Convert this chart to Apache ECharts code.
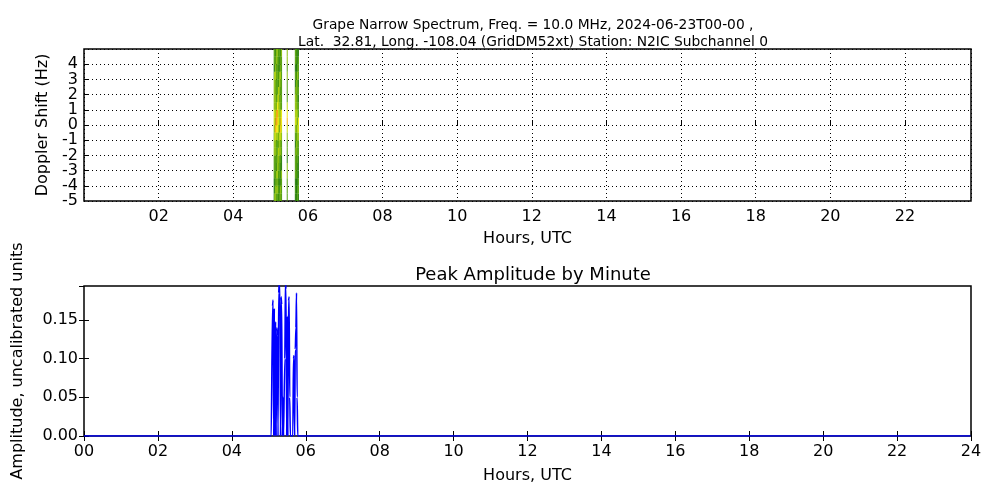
<!DOCTYPE html>
<html><head><meta charset="utf-8">
<script src="https://cdn.jsdelivr.net/npm/echarts@6/dist/echarts.min.js"></script>
<style>html,body{margin:0;padding:0;background:#fff}#c{width:1000px;height:500px}</style>
</head><body><div id="c"></div>
<script>
// Peak amplitude: nonzero minutes (minute of day, value); all other minutes are 0
const peakMinutes = [305,306,307,309,311,313,314,316,317,318,320,321,323,324,326,327,328,330,332,333,334,335,339,340,341,343,344,345,346,347];
const peakValues  = [0,0.168,0.176,0.165,0.148,0.14,0.13,0.185,0.2,0.195,0.18,0.17,0.05,0,0.1,0.2,0.19,0.155,0.175,0.18,0.05,0,0,0.1,0.104,0.112,0.14,0.185,0.05,0];
// Spectrogram stripes: columns (minutes) and their intensities
const specMinutes = [305,306,307,308,309,310,311,312,313,314,315,316,317,326,339,340,341,342,343,344];
const specColAmp  = [0.7,0.75,0.8,0.85,0.75,0.9,0.85,0.8,0.75,0.7,0.8,0.72,0.68,0.75,0.6,0.65,0.7,0.62,0.6,0.55];
// Doppler bins (Hz, lower edge) and relative intensity profile
const dopplerBins = [-5,-4.5,-4,-3.5,-3,-2.5,-2,-1.5,-1,-0.5,0,0.5,1,1.5,2,2.5,3,3.5,4,4.5];
const dopplerProf = [0.45,0.5,0.42,0.55,0.48,0.5,0.6,0.55,0.7,0.85,1.0,0.9,0.7,0.6,0.55,0.5,0.58,0.45,0.5,0.48];
const cellTexture = [0.6,1.0,0.75,1.15,0.85,0.7,1.1,0.9];
const palette = ['#0a6400','#1f7a00','#4a9a00','#86bc00','#c4da00','#eee800','#f5b000','#f08000'];

const lineData = [];
for (let m = 0; m < 1440; m++) {
  const i = peakMinutes.indexOf(m);
  lineData.push([m / 60, i >= 0 ? peakValues[i] : 0]);
}
const cells = [];
specMinutes.forEach((m, ci) => dopplerBins.forEach((d, ri) => {
  cells.push([m / 60, d, specColAmp[ci] * dopplerProf[ri] * cellTexture[(ci * 3 + ri * 5) % cellTexture.length]]);
}));
const pad = v => String(Math.round(v)).padStart(2, '0');
const fontBase = {fontFamily: 'DejaVu Sans', color: '#000'};
const tick = {inside: true, length: 5, lineStyle: {color: '#000'}};
const noTick = {show: false};
const chart = echarts.init(document.getElementById('c'));
chart.setOption({
  animation: false,
  title: [
    {text: 'Grape Narrow Spectrum, Freq. = 10.0 MHz, 2024-06-23T00-00 ,\nLat.  32.81, Long. -108.04 (GridDM52xt) Station: N2IC Subchannel 0',
     left: 528, top: 12, textAlign: 'center', textStyle: {...fontBase, fontSize: 13.8, fontWeight: 'normal', lineHeight: 17}},
    {text: 'Peak Amplitude by Minute', left: 528, top: 261, textAlign: 'center', textStyle: {...fontBase, fontSize: 18, fontWeight: 'normal'}}
  ],
  grid: [
    {left: 84, right: 29, top: 49, bottom: 299, show: true, borderColor: '#000', borderWidth: 1.5},
    {left: 84, right: 29, top: 286, bottom: 64, show: true, borderColor: '#000', borderWidth: 1.5}
  ],
  xAxis: [
    {gridIndex: 0, type: 'value', min: 0, max: 23.77, interval: 2, name: 'Hours, UTC', nameLocation: 'middle', nameGap: 30,
     nameTextStyle: {...fontBase, fontSize: 16},
     axisLine: {show: false}, axisTick: tick,
     axisLabel: {...fontBase, fontSize: 16, margin: 8, showMinLabel: false, showMaxLabel: false, formatter: v => (v === 0 || v > 23) ? '' : pad(v)},
     splitLine: {show: true, lineStyle: {color: '#000', type: [1, 3]}}},
    {gridIndex: 1, type: 'value', min: 0, max: 24, interval: 2, name: 'Hours, UTC', nameLocation: 'middle', nameGap: 32,
     nameTextStyle: {...fontBase, fontSize: 16},
     axisLine: {show: false}, axisTick: tick,
     axisLabel: {...fontBase, fontSize: 16, margin: 8, formatter: v => pad(v)}, splitLine: {show: false}},
    {gridIndex: 1, type: 'value', min: 0, max: 24, interval: 2, position: 'top',
     axisLine: {show: false}, axisTick: tick, axisLabel: {show: false}, splitLine: {show: false}}
  ],
  yAxis: [
    {gridIndex: 0, type: 'value', min: -5, max: 5, interval: 1, name: 'Doppler Shift (Hz)', nameLocation: 'middle', nameGap: 24,
     nameTextStyle: {...fontBase, fontSize: 16},
     axisLine: {show: false}, axisTick: tick,
     axisLabel: {...fontBase, fontSize: 16, lineHeight: 12, margin: 6, showMinLabel: false, showMaxLabel: false, formatter: v => (v === 5 || v === -5) ? '' : String(v)},
     splitLine: {show: true, lineStyle: {color: '#000', type: [1, 3]}}},
    {gridIndex: 0, type: 'value', min: -5, max: 5, interval: 1, position: 'left',
     axisLine: {show: false}, axisTick: noTick, splitLine: {show: false},
     axisLabel: {...fontBase, fontSize: 16, lineHeight: 12, margin: 6, showMinLabel: true, showMaxLabel: false, formatter: v => v === -5 ? '-5' : ''}},
    {gridIndex: 1, type: 'value', min: 0, max: 0.194, interval: 0.05, name: 'Amplitude, uncalibrated units', nameLocation: 'middle', nameGap: 58,
     nameTextStyle: {...fontBase, fontSize: 16},
     axisLine: {show: false}, axisTick: tick,
     axisLabel: {...fontBase, fontSize: 16, margin: 6, showMaxLabel: false, formatter: v => v > 0.16 ? '' : v.toFixed(2)}, splitLine: {show: false}},
    {gridIndex: 1, type: 'value', min: 0, max: 0.194, interval: 0.05, position: 'right',
     axisLine: {show: false}, axisTick: tick, axisLabel: {show: false}, splitLine: {show: false}}
  ],
  series: [
    {type: 'custom', xAxisIndex: 0, yAxisIndex: 0, data: cells, clip: true,
     renderItem: (params, api) => {
       const x = api.value(0), y = api.value(1), v = api.value(2);
       const p0 = api.coord([x, y + 0.5]), p1 = api.coord([x + 1 / 60, y]);
       const idx = Math.max(0, Math.min(palette.length - 1, Math.floor(v * palette.length)));
       return {type: 'rect', shape: {x: p0[0], y: p0[1], width: p1[0] - p0[0] + 0.3, height: p1[1] - p0[1]},
               style: {fill: palette[idx]}};
     }},
    {type: 'line', xAxisIndex: 1, yAxisIndex: 2, data: lineData, showSymbol: false, smooth: 0.2, smoothMonotone: 'x',
     lineStyle: {color: '#0000ff', width: 1.5}, clip: true}
  ]
});
</script></body></html>
